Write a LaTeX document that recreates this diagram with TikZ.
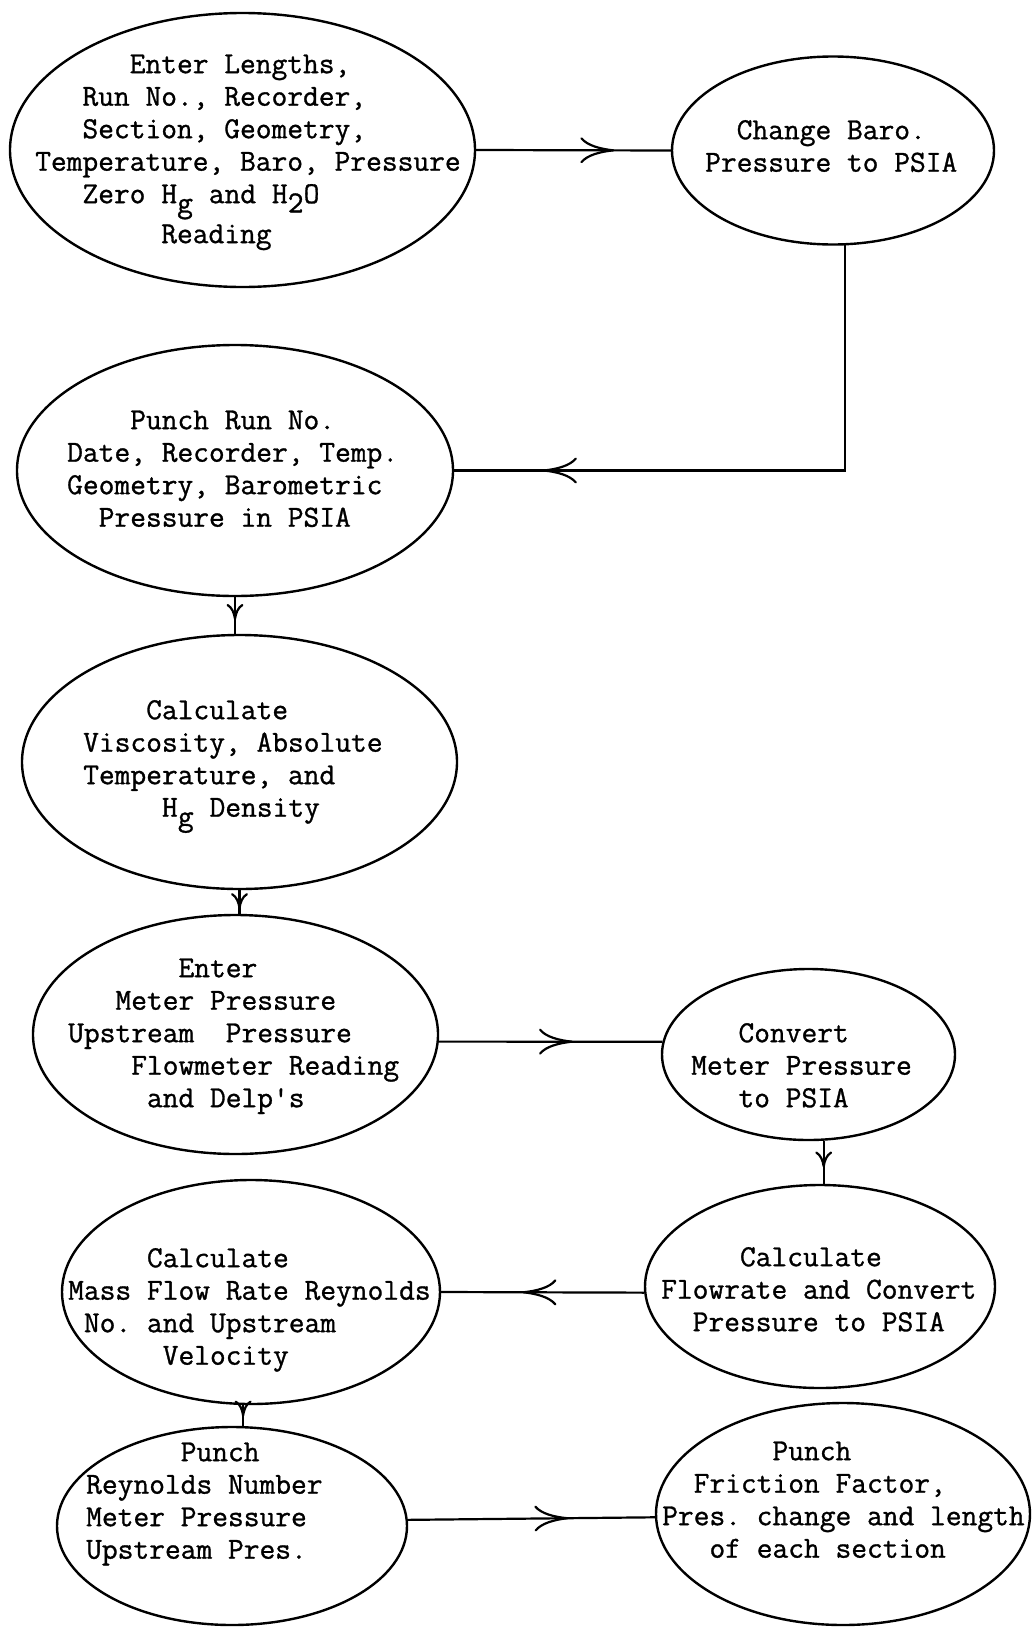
\documentclass[tikz,border=0pt]{standalone}
\usepackage{fontspec}
\setmonofont[FakeBold=1]{Latin Modern Mono}
\usetikzlibrary{shapes.geometric,arrows.meta,decorations.markings}
\newcommand\sub[1]{\makebox[0.525em]{\raisebox{-0.3em}{#1}}}
\begin{document}
\begin{tikzpicture}[x=1pt,y=-1pt,
  box/.style={draw,ellipse,line width=2.4pt,inner sep=0pt},
  txt/.style={anchor=north west,inner sep=0pt,align=left,font=\ttfamily\fontsize{30.6}{32.5}\selectfont},
  conn/.style={line width=2.2pt},
  midarrow/.style={postaction={decorate,decoration={markings,mark=at position #1 with {\arrow{Computer Modern Rightarrow[length=34pt,width=26pt]}}}}},
  smallarrow/.style={postaction={decorate,decoration={markings,mark=at position #1 with {\arrow{Computer Modern Rightarrow[length=16pt,width=17pt]}}}}}
]
\fill[white] (0,0) rectangle (1032,1628);
\useasboundingbox (0,0) rectangle (1032,1628);

% ellipses
\node[box,minimum width=465pt,minimum height=274pt] (e1) at (242.5,150) {};
\node[box,minimum width=322pt,minimum height=188pt] (e2) at (833,150.5) {};
\node[box,minimum width=436pt,minimum height=251pt] (e3) at (235,470.5) {};
\node[box,minimum width=435pt,minimum height=254pt] (e4) at (239.5,762) {};
\node[box,minimum width=405pt,minimum height=239pt] (e5) at (235.5,1034.5) {};
\node[box,minimum width=293pt,minimum height=171pt] (e6) at (808.5,1054.5) {};
\node[box,minimum width=378pt,minimum height=224pt] (e7) at (251,1292) {};
\node[box,minimum width=350pt,minimum height=203pt] (e9) at (820,1286.5) {};
\node[box,minimum width=350pt,minimum height=198pt] (e8) at (232,1526) {};
\node[box,minimum width=374pt,minimum height=222pt] (e10) at (843,1514) {};

% texts
\node[txt] (t1) at (35,50.25) {\strut~~~~~~Enter Lengths,\\
\strut~~~Run No., Recorder,\\
\strut~~~Section, Geometry,\\
\strut Temperature, Baro, Pressure\\
\strut~~~Zero H\sub{g} and H\sub{2}O\\
\strut~~~~~~~~Reading};
\node[txt] (t2) at (705,116.25) {\strut~~Change Baro.\\
\strut Pressure to PSIA};
\node[txt] (t3) at (67,406.25) {\strut~~~~Punch Run No.\\
\strut Date, Recorder, Temp.\\
\strut Geometry, Barometric\\
\strut~~Pressure in PSIA};
\node[txt] (t4) at (83,696.25) {\strut~~~~Calculate\\
\strut Viscosity, Absolute\\
\strut Temperature, and\\
\strut~~~~~H\sub{g} Density};
\node[txt] (t5) at (68,954.25) {\strut~~~~~~~Enter\\
\strut~~~Meter Pressure\\
\strut Upstream~~Pressure\\
\strut~~~~Flowmeter Reading\\
\strut~~~~~and Delp's};
\node[txt] (t6) at (691,1019.25) {\strut~~~Convert\\
\strut Meter Pressure\\
\strut~~~to PSIA};
\node[txt] (t7) at (68,1244.25) {\strut~~~~~Calculate\\
\strut Mass Flow Rate Reynolds\\
\strut~No. and Upstream\\
\strut~~~~~~Velocity};
\node[txt] (t9) at (661,1243.25) {\strut~~~~~Calculate\\
\strut Flowrate and Convert\\
\strut~~Pressure to PSIA};
\node[txt] (t8) at (86,1438.25) {\strut~~~~~~Punch\\
\strut Reynolds Number\\
\strut Meter Pressure\\
\strut Upstream Pres.};
\node[txt] (t10) at (662,1437.25) {\strut~~~~~~~Punch\\
\strut~~Friction Factor,\\
\strut Pres. change and length\\
\strut~~~of each section};

% connectors
\draw[conn,midarrow=0.71] (e1.east) -- (e2.west);
\draw[conn,midarrow=0.856] (e2.-83) |- (e3.east);
\draw[conn,smallarrow=0.62] (e3.south) -- (e3.south |- e4.north);
\draw[conn,smallarrow=0.8] (e4.south) -- (e4.south |- e5.north);
\draw[conn,midarrow=0.6] (e5.-2) -- (e6.175);
\draw[conn,smallarrow=0.62] (e6.-80) -- (e6.-80 |- e9.north);
\draw[conn,midarrow=0.6] (e9.182) -- (e7.east);
\draw[conn,smallarrow=0.55] (e7.-94) -- (e7.-94 |- e8.north);
\draw[conn,midarrow=0.65] (e8.2) -- (e10.181);
\end{tikzpicture}
\end{document}
